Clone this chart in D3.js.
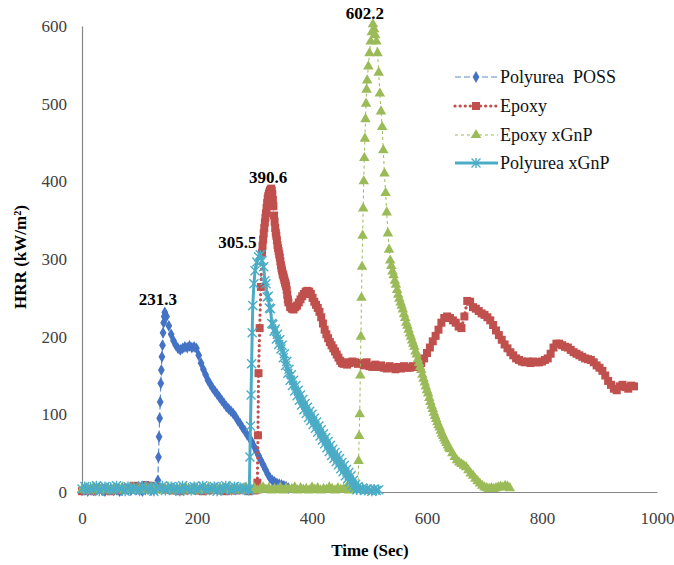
<!DOCTYPE html>
<html>
<head>
<meta charset="utf-8">
<script src="https://cdn.jsdelivr.net/npm/d3@7"></script>
<style>
body { margin: 0; background: #fff; }
svg text { font-family: "Liberation Serif", "Times New Roman", Times, "DejaVu Serif", serif !important; }
</style>
</head>
<body>
<div id="chart"></div>
<script>
'use strict';

// ---- data (time in s, HRR in kW/m2) ----
const xTicks = [0, 200, 400, 600, 800, 1000];
const yTicks = [0, 100, 200, 300, 400, 500, 600];
const seriesNames = ['Polyurea  POSS', 'Epoxy', 'Epoxy xGnP', 'Polyurea xGnP'];
const peakValues = [231.3, 390.6, 602.2, 305.5];

// Polyurea POSS
const possBase = [2,3,1,4,2,3,5,2,1,3, 4,2,3,1,2,4,3,2,5,3, 2,1,3,4,2,3,4];          // t 0..130 step 5
const possRise = [[132,15],[133,45],[134,71],[135,95],[136,116],[137,140],[138,157],
                  [139,174],[140,189],[141,205],[142,218],[143,226],[144,231.3]];
const possTail = [226,214,203,195,189,185,183,185,187,186, 188,186,187,185,176,166,158,151,144,139,
                  134,130,126,122,118,114,110,107,104,101, 97,92,88,83,79,74,70,65,59,53,
                  47,41,35,29,23,18,15,13,11,10, 9,8,7,5];                                // t 147..359 step 4

// Epoxy
const epoxyBase = [1,2,1,3,2,1,2,3,5,8, 7,9,8,6,4,3,2,1,2,3, 2,1,2,3,2,1,2,2,3,1, 2];   // t 0..300 step 10
const epoxyRise = [[303,3],[305,12],[306,73],[307,153],[309,211],[311,264],[313,308],[314,317],
                   [315,325],[316,333],[317,340],[318,347],[319,353],[320,359],[321,366],[322,372],
                   [323,378],[324,381],[325,384],[326,386],[327,388],[328,389],[329,390.6]];
const epoxyFall = [388,384,376,368,356,348,340,334,330,324, 318,314,310,306,302,297,292,288,285,281,
                   279,276,273,270,268,265,260,254,248,244];                              // t 330..359 step 1
const epoxyDrop = [238,236,235,238,240,244,248,252,255,258, 259,258,255,250,245,241,237,232,225,217,
                   209,203,198,193,189,185,181,177,173,169, 166,165,167,164];             // t 362..461 step 3
const epoxyTail = [166,168,167,165,166,163,167,162,161,164, 161,163,160,159,162,160,158,161,159,162,
                   160,160,162,161,163,166,172,179,186,194, 201,209,218,224,226,224,221,218,213,211,
                   226,246,245,238,236,233,230,228,225,221, 215,208,202,196,190,185,180,176,172,170,
                   168,167,168,166,168,167,167,168,170,172, 178,186,191,191,189,187,186,183,180,178,
                   176,174,172,171,170,167,163,160,156,150, 143,138,133,131,136,138,135,133,137,136]; // t 465..960 step 5

// Epoxy xGnP
const exgBase = [3,5,2,4,6,3,2,5,4,3, 2,4,5,3,6,2,4,3,5,2, 4,3,6,2,5,3,4,2,5,3, 6,4,2,5,3,4,6,2,3,5,
                 4,2,5,3,6,3,4,2,5,4, 3,6,2,4,5,3,2,6,4,3, 5,2,4,6,3,5,2,4,3,6, 2,5,3,4,6,2,5,3,4,2,
                 6,3,5,2,4,3,6,4,2,5, 3,4,6,2,5,3];                                       // t 0..475 step 5
const exgPeak = [[480,3],[481,40],[482,72],[483,100],[484,150],[485,200],[486,250],[487,290],[488,330],
                 [489,365],[490,400],[491,430],[492,455],[493,480],[494,500],[495,518],[496,530],[498,548],
                 [500,565],[502,580],[504,592],[506,602.2],[508,596],[510,588],[512,580],[514,565],
                 [516,540],[518,513],[520,490],[522,470],[524,440],[526,410],[528,385],[530,360],
                 [532,333],[534,312],[536,298]];
const exgFall = [291,284,279,272,267,260,254,249,244,240, 235,229,224,218,214,209,204,200,195,191,
                 187,181,177,171,166,161,157,151,146,141, 136,131,127,121,116,111,107,102,98,94,
                 90,86,83,79,75,72,69,66,63,60, 57,55];                                     // t 538..640 step 2
const exgTail = [50,45,41,38,36,34,32,28,24,21, 17,14,11,8,6,5,4,5,4,5, 6,7,6,8,7,5];        // t 644..744 step 4

// Polyurea xGnP
const pxgBase = [4,7,2,6,3,8,1,5,7,3, 6,2,8,4,5,1,7,3,6,4, 2,8,5,3,7,1,6,4,8,2, 5,7,3,6,1,8,4,5,2,7,
                 3,6,8,2,5,4,7,1,6,3, 8,5,2,7,4,6,3,5,2];                                 // t 0..290 step 5
const pxgPeak = [[291,4],[292,45],[293,85],[294,125],[295,165],[296,205],[297,240],[299,268],
                 [301,285],[304,296],[307,303],[310,305.5],[313,298]];
const pxgFall = [290,272,268,251,252,237,236,217,216,207, 210,197,203,190,196,184,189,173,178,163,
                 168,153,158,144,151,137,144,130,137,124, 131,118,125,112,119,106,114,101,109,96,
                 104,92,100,87,95,82,90,77,85,72, 80,67,75,62,70,57,65,52,60,47,
                 55,43,51,39,47,35,43,30,38,26, 34,21,29,17,25,13,21,9,15,6,
                 10,3,7];                                                                   // t 316..480 step 2
const pxgTail = [3,5,2,4,3,1,4,2,3];                                                        // t 484..516 step 4

const seq = (t0, dt, vals) => vals.map((v, i) => [t0 + i * dt, v]);

const seriesData = [
    seq(0, 5, possBase).concat(possRise, seq(147, 4, possTail)),
    seq(0, 10, epoxyBase).concat(epoxyRise, seq(330, 1, epoxyFall), seq(362, 3, epoxyDrop), seq(465, 5, epoxyTail)),
    seq(0, 5, exgBase).concat(exgPeak, seq(538, 2, exgFall), seq(644, 4, exgTail)),
    seq(0, 5, pxgBase).concat(pxgPeak, seq(316, 2, pxgFall), seq(484, 4, pxgTail))
];

const SERIF = '"Liberation Serif", "Times New Roman", Times, "DejaVu Serif", serif';

class HrrChart {

    constructor (id)
    {
        this.id = id;
        this.margins = {top: 26, bottom: 73, left: 82, right: 17};
        this.width = 575;
        this.height = 466;
        this.fontSize = 17;
        this.axisColor = '#868686';
    }

    setData (data, names)
    {
        this.data = data;
        this.legend = names;
        return this;
    }

    setStyles (styles)
    {
        this.styles = styles;
        return this;
    }

    appendSvg ()
    {
        return d3.select('#' + this.id).append('svg')
            .attr('width', this.width + this.margins.left + this.margins.right)
            .attr('height', this.height + this.margins.top + this.margins.bottom)
            .attr('font-family', SERIF);
    }

    markerPath (shape, size)
    {
        if (shape === 'star') {
            let s = size / 2;
            return 'M' + (-s) + ',' + (-s) + 'L' + s + ',' + s +
                   'M' + (-s) + ',' + s + 'L' + s + ',' + (-s) +
                   'M0,' + (-s - 0.5) + 'L0,' + (s + 0.5);
        }
        let sym = {diamond: d3.symbolDiamond, square: d3.symbolSquare, triangle: d3.symbolTriangle}[shape];
        return d3.symbol().type(sym).size(size)();
    }

    drawMarker (g, st, x, y)
    {
        let p = g.append('path')
            .attr('d', this.markerPath(st.marker, st.markerSize))
            .attr('transform', 'translate(' + x + ',' + y + ')');
        if (st.marker === 'star') {
            p.attr('fill', 'none').attr('stroke', st.markerColor).attr('stroke-width', 1.4);
        } else {
            p.attr('fill', st.markerColor);
        }
    }

    createAxes (svg)
    {
        let xAxis = d3.axisBottom(this.xScale).tickValues(xTicks).tickFormat(d3.format('d'))
            .tickSize(0).tickPadding(20);
        let yAxis = d3.axisLeft(this.yScale).tickValues(yTicks).tickFormat(d3.format('d'))
            .tickSize(0).tickPadding(15);

        let gx = svg.append('g')
            .attr('class', 'xAxis')
            .attr('transform', 'translate(0,' + (this.height + this.margins.top) + ')')
            .call(xAxis);
        let gy = svg.append('g')
            .attr('class', 'yAxis')
            .attr('transform', 'translate(' + this.margins.left + ',0)')
            .call(yAxis);

        [gx, gy].forEach(g => {
            g.attr('font-family', SERIF).attr('font-size', this.fontSize);
            g.select('.domain').attr('stroke', this.axisColor).attr('stroke-width', 1.2);
            g.selectAll('text').attr('fill', '#404040');
        });

        svg.append('text')
            .attr('x', 370)
            .attr('y', 556)
            .attr('text-anchor', 'middle')
            .attr('font-weight', 'bold')
            .attr('font-size', this.fontSize)
            .text('Time (Sec)');

        svg.append('text')
            .attr('transform', 'translate(26,257) rotate(-90)')
            .attr('text-anchor', 'middle')
            .attr('font-weight', 'bold')
            .attr('font-size', this.fontSize)
            .text('HRR (kW/m²)');
    }

    appendData (svg)
    {
        let line = d3.line().x(d => this.xScale(d[0])).y(d => this.yScale(d[1]));

        this.data.forEach((series, i) => {
            let st = this.styles[i];
            let g = svg.append('g').attr('class', 'series-' + i);
            g.append('path')
                .datum(series)
                .attr('d', line)
                .attr('fill', 'none')
                .attr('stroke', st.lineColor)
                .attr('stroke-width', st.lineWidth)
                .attr('stroke-dasharray', st.dash)
                .attr('stroke-linecap', st.cap || 'butt');
            series.forEach(d => this.drawMarker(g, st, this.xScale(d[0]), this.yScale(d[1])));
        });
    }

    appendPeakLabels (svg)
    {
        this.data.forEach((series, i) => {
            let peak = series.find(d => d[1] === peakValues[i]);
            let off = this.styles[i].labelOffset;
            svg.append('text')
                .attr('x', this.xScale(peak[0]) + off[0])
                .attr('y', this.yScale(peak[1]) + off[1])
                .attr('dy', '0.35em')
                .attr('text-anchor', 'middle')
                .attr('font-weight', 'bold')
                .attr('font-size', this.fontSize)
                .text(peakValues[i].toFixed(1));
        });
    }

    appendLegend (svg)
    {
        let rows = [77, 106, 135, 163];
        this.legend.forEach((name, i) => {
            let st = this.styles[i];
            let g = svg.append('g').attr('class', 'legend-item');
            g.append('line')
                .attr('x1', 455).attr('x2', 498)
                .attr('y1', rows[i]).attr('y2', rows[i])
                .attr('stroke', st.lineColor)
                .attr('stroke-width', st.lineWidth)
                .attr('stroke-dasharray', st.dash)
                .attr('stroke-linecap', st.cap || 'butt');
            this.drawMarker(g, st, 476, rows[i]);
            g.append('text')
                .attr('x', 500)
                .attr('y', rows[i])
                .attr('dy', '0.33em')
                .attr('font-size', 18)
                .attr('fill', '#111')
                .style('white-space', 'pre')
                .text(name);
        });
    }

    build ()
    {
        this.xScale = d3.scaleLinear().domain([0, 1000])
            .range([this.margins.left, this.margins.left + this.width]);
        this.yScale = d3.scaleLinear().domain([0, 600])
            .range([this.margins.top + this.height, this.margins.top]);

        let svg = this.appendSvg();
        this.createAxes(svg);
        this.appendData(svg);
        this.appendPeakLabels(svg);
        this.appendLegend(svg);
        return this;
    }
}

new HrrChart('chart')
    .setData(seriesData, seriesNames)
    .setStyles([
        {lineColor: '#5B8BCB', lineWidth: 1.2, dash: '6,3', marker: 'diamond', markerSize: 40,
         markerColor: '#4472C4', labelOffset: [-7, -13]},
        {lineColor: '#C0504D', lineWidth: 3.2, dash: '0.1,5', cap: 'round', marker: 'square', markerSize: 64,
         markerColor: '#C0504D', labelOffset: [-3, -12]},
        {lineColor: '#9BBB59', lineWidth: 1, dash: '3,3', marker: 'triangle', markerSize: 48,
         markerColor: '#9BBB59', labelOffset: [-8, -11]},
        {lineColor: '#4BACC6', lineWidth: 3, dash: null, marker: 'star', markerSize: 9,
         markerColor: '#4BACC6', labelOffset: [-23, -13]}
    ])
    .build();
</script>
</body>
</html>
